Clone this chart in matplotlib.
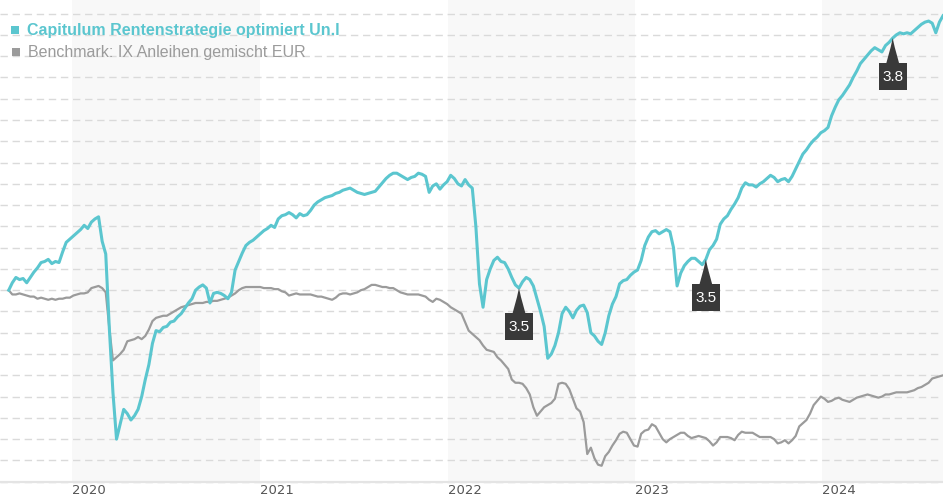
import pandas as pd
import matplotlib
matplotlib.use("Agg")
import matplotlib.pyplot as plt
from matplotlib.patches import Polygon, Rectangle
from matplotlib.transforms import ScaledTranslation

# weekly values, indexed to 100 at start
fund_name = "Capitulum Rentenstrategie optimiert Un.I"
bench_name = "Benchmark: IX Anleihen gemischt EUR"

fund = [
    100.0, 100.35, 100.6, 100.5, 100.55, 100.35, 100.6, 100.85, 101.05, 101.3,
    101.35, 101.45, 101.25, 101.35, 101.3, 101.8, 102.25, 102.4, 102.55, 102.7,
    102.85, 103.05, 102.9, 103.2, 103.35, 103.45, 102.3, 101.7, 98.2, 95.2,
    93.0, 93.7, 94.4, 94.2, 93.9, 94.1, 94.4, 95.0, 95.8, 96.5,
    97.5, 98.1, 98.05, 98.25, 98.3, 98.5, 98.55, 98.75, 98.9, 99.15,
    99.4, 99.6, 100.0, 100.15, 100.25, 100.1, 99.4, 99.85, 99.9, 99.85,
    99.75, 99.6, 99.9, 100.95, 101.35, 101.75, 102.1, 102.25, 102.35, 102.5,
    102.65, 102.8, 102.9, 103.05, 102.95, 103.35, 103.5, 103.55, 103.65, 103.55,
    103.4, 103.6, 103.5, 103.55, 103.75, 104.0, 104.15, 104.25, 104.35, 104.4,
    104.45, 104.55, 104.6, 104.7, 104.75, 104.8, 104.7, 104.6, 104.55, 104.5,
    104.55, 104.6, 104.65, 104.85, 105.05, 105.25, 105.4, 105.5, 105.5, 105.4,
    105.3, 105.2, 105.3, 105.35, 105.5, 105.45, 105.35, 104.6, 104.9, 105.0,
    104.75, 104.95, 105.1, 105.4, 105.25, 105.0, 104.9, 105.2, 104.95, 104.8,
    103.0, 100.3, 99.2, 100.5, 101.0, 101.4, 101.55, 101.35, 101.3, 101.0,
    100.6, 100.25, 100.1, 100.4, 100.6, 100.5, 100.2, 99.6, 99.0, 98.3,
    96.8, 97.0, 97.4, 98.0, 98.9, 99.2, 99.0, 98.7, 99.05, 99.25,
    99.3, 98.95, 98.0, 97.85, 97.6, 97.45, 98.0, 98.8, 99.35, 99.7,
    100.3, 100.45, 100.5, 100.7, 100.85, 100.95, 101.4, 102.1, 102.5, 102.75,
    102.8, 102.65, 102.75, 102.85, 102.75, 102.0, 100.2, 100.8, 101.15, 101.35,
    101.5, 101.5, 101.35, 101.2, 101.45, 101.9, 102.1, 102.4, 103.1, 103.35,
    103.5, 103.8, 104.05, 104.35, 104.8, 105.05, 104.95, 104.95, 104.85, 105.0,
    105.1, 105.25, 105.4, 105.3, 105.1, 105.2, 105.25, 105.1, 105.35, 105.7,
    106.05, 106.4, 106.6, 106.85, 107.05, 107.2, 107.4, 107.5, 107.65, 108.2,
    108.6, 108.95, 109.15, 109.4, 109.65, 110.0, 110.3, 110.65, 110.85, 111.05,
    111.25, 111.4, 111.3, 111.2, 111.5, 111.65, 111.85, 112.0, 112.1, 112.05,
    112.1, 112.05, 112.2, 112.35, 112.5, 112.6, 112.65, 112.55, 112.1, 112.6,
    112.9,
]

bench = [
    100.0, 99.8, 99.8, 99.85, 99.8, 99.75, 99.7, 99.7, 99.6, 99.65,
    99.6, 99.55, 99.6, 99.55, 99.6, 99.6, 99.65, 99.65, 99.75, 99.8,
    99.85, 99.85, 99.9, 100.1, 100.15, 100.2, 100.1, 99.9, 98.2, 96.7,
    96.85, 97.0, 97.2, 97.6, 97.65, 97.7, 97.8, 97.7, 97.85, 98.15,
    98.55, 98.7, 98.75, 98.8, 98.8, 98.9, 99.0, 99.1, 99.2, 99.25,
    99.3, 99.35, 99.4, 99.4, 99.4, 99.45, 99.45, 99.5, 99.5, 99.55,
    99.6, 99.65, 99.75, 99.85, 100.0, 100.1, 100.15, 100.15, 100.15, 100.15,
    100.15, 100.1, 100.1, 100.1, 100.05, 100.05, 99.95, 99.9, 99.75, 99.8,
    99.85, 99.8, 99.8, 99.8, 99.8, 99.75, 99.7, 99.7, 99.65, 99.6,
    99.55, 99.65, 99.8, 99.85, 99.85, 99.8, 99.85, 99.9, 100.0, 100.05,
    100.15, 100.25, 100.25, 100.2, 100.15, 100.15, 100.1, 100.1, 100.0, 99.9,
    99.85, 99.8, 99.8, 99.8, 99.8, 99.75, 99.7, 99.55, 99.45, 99.6,
    99.55, 99.45, 99.35, 99.2, 99.1, 99.0, 98.9, 98.5, 98.1, 97.95,
    97.8, 97.65, 97.4, 97.2, 97.15, 97.1, 96.85, 96.7, 96.5, 96.3,
    95.8, 95.65, 95.65, 95.6, 95.4, 95.1, 94.5, 94.1, 94.3, 94.5,
    94.6, 94.7, 94.9, 95.6, 95.65, 95.6, 95.35, 94.9, 94.45, 94.3,
    93.8, 92.3, 92.6, 92.1, 91.8, 91.75, 92.2, 92.4, 92.7, 92.95,
    93.25, 93.35, 93.3, 93.0, 92.7, 92.65, 93.25, 93.4, 93.45, 93.7,
    93.6, 93.3, 93.0, 92.85, 93.0, 93.1, 93.2, 93.3, 93.3, 93.15,
    93.05, 93.1, 93.15, 93.1, 93.05, 92.9, 92.7, 92.85, 93.1, 93.1,
    93.1, 93.05, 92.95, 93.2, 93.35, 93.3, 93.3, 93.3, 93.2, 93.1,
    93.1, 93.1, 93.1, 93.0, 92.8, 92.85, 92.95, 92.8, 92.95, 93.15,
    93.6, 93.75, 93.9, 94.2, 94.6, 94.8, 95.0, 94.9, 94.75, 94.8,
    94.9, 94.95, 94.85, 94.8, 94.75, 94.85, 94.95, 95.0, 95.05, 95.1,
    95.05, 95.0, 94.95, 95.0, 95.1, 95.1, 95.15, 95.2, 95.2, 95.2,
    95.2, 95.25, 95.3, 95.4, 95.45, 95.55, 95.65, 95.85, 95.9, 95.95,
    96.0,
]

dates = pd.date_range("2019-08-30", periods=len(fund), freq="7D")

years = [2020, 2021, 2022, 2023, 2024]
shaded_years = [2020, 2022, 2024]

# rating markers on the fund line
ann_dates = ["2022-05-20", "2023-05-19", "2024-05-17"]
ann_labels = ["3.5", "3.5", "3.8"]

teal = "#5bc6cf"
grey = "#9b9b9b"

fig = plt.figure(figsize=(9.43, 5.0), dpi=100)
ax = fig.add_axes([0, 0.0366, 1, 0.9634])
ax.set_xlim(pd.Timestamp("2019-08-13"), pd.Timestamp("2024-08-23"))
ax.set_ylim(91, 113.64)

# alternating year bands
for yr in shaded_years:
    ax.axvspan(pd.Timestamp(f"{yr}-01-01"), pd.Timestamp(f"{yr + 1}-01-01"),
               color="#f8f8f8", lw=0, zorder=0)

# dashed horizontal grid
for v in range(91, 114):
    ax.axhline(v, color="#dadada", lw=1.0, dashes=(5.3, 3.4), zorder=1, clip_on=False)
ax.axhline(91, color="#e4e4e4", lw=1.6, zorder=1, clip_on=False)

ax.plot(dates, bench, color=grey, lw=1.6, zorder=3)
ax.plot(dates, fund, color=teal, lw=2.2, zorder=4)

for s in ax.spines.values():
    s.set_visible(False)
ax.set_yticks([])
ax.set_xticks([pd.Timestamp(f"{yr}-01-01") for yr in years])
ax.set_xticklabels([str(yr) for yr in years], ha="left", fontsize=9.5,
                   color="#555555", family="DejaVu Sans")
ax.tick_params(axis="x", length=0, pad=2)

# legend (top left, no frame)
fig.add_artist(Rectangle((11 / 943, 1 - 34 / 500), 8 / 943, 8 / 500,
                         transform=fig.transFigure, color=teal, lw=0))
fig.add_artist(Rectangle((12 / 943, 1 - 56 / 500), 8 / 943, 8 / 500,
                         transform=fig.transFigure, color=grey, lw=0))
fig.text(27 / 943, 1 - 30 / 500, fund_name, color=teal, fontsize=11.5,
         fontweight="bold", family="Liberation Sans", va="center", ha="left")
fig.text(28 / 943, 1 - 52 / 500, bench_name, color=grey, fontsize=11.5,
         family="Liberation Sans", va="center", ha="left")

# rating flags: spike + dark box under the point
fund_s = pd.Series(fund, index=dates)
for d, lab in zip(ann_dates, ann_labels):
    d = pd.Timestamp(d)
    v = fund_s[d]
    tr = fig.dpi_scale_trans + ScaledTranslation(
        matplotlib.dates.date2num(d), v, ax.transData)
    spike = Polygon([(0, 0), (0.02, -0.09), (0.065, -0.255), (-0.065, -0.255),
                     (-0.02, -0.09)], closed=True, transform=tr,
                    fc="#393939", ec="none", zorder=6)
    box = Rectangle((-0.14, -0.515), 0.28, 0.265, transform=tr,
                    fc="#393939", ec="none", zorder=6)
    fig.add_artist(spike)
    fig.add_artist(box)
    fig.text(0, -0.385, lab, transform=tr, color="white", fontsize=11,
             family="Liberation Sans", ha="center", va="center", zorder=7)

fig.savefig("out.png", dpi=100)
